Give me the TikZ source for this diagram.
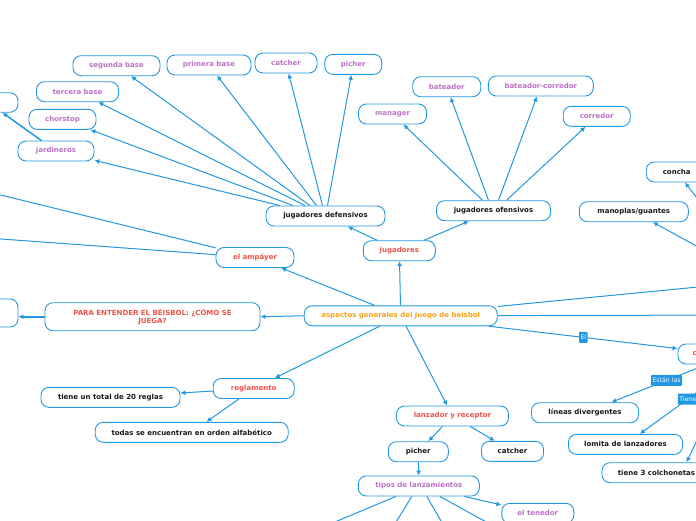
\documentclass[tikz,border=0pt]{standalone}
\usepackage{fontspec}
\setmainfont{DejaVu Sans}
\usetikzlibrary{positioning,arrows.meta}

\definecolor{mapblue}{RGB}{35,152,226}
\definecolor{mapred}{RGB}{238,82,72}
\definecolor{mappurple}{RGB}{190,112,200}
\definecolor{maporange}{RGB}{246,162,22}
\definecolor{mapblack}{RGB}{25,25,25}

\begin{document}
\begin{tikzpicture}[x=1pt, y=-1pt,
% node style
box/.style={draw=mapblue, line width=0.9pt, fill=white, rounded corners=8pt, minimum height=20pt, inner sep=2pt, font=\fontsize{7}{8.2}\selectfont\bfseries, text=mapblack},
rtxt/.style={box, text=mapred},
ptxt/.style={box, text=mappurple},
otxt/.style={box, text=maporange},
lbl/.style={fill=mapblue, text=white, rounded corners=1pt, inner sep=1.5pt, minimum height=11pt, font=\fontsize{6.2}{7}\selectfont},
arr/.style={draw=mapblue, line width=1pt, -{Latex[length=5pt,width=5pt]}}
]

\useasboundingbox (0,0) rectangle (696,520);
\fill[white] (0,0) rectangle (696,520);
\clip (0,0) rectangle (696,520);

% nodes
\node[otxt, minimum width=193pt] (root) at (400.7,315.8) {aspectos generales del juego de beisbol};
\node[rtxt, minimum width=72pt] (jug) at (399.3,250.7) {jugadores};
\node[box, minimum width=119pt] (defens) at (325.5,216) {jugadores defensivos};
\node[box, minimum width=114pt] (ofens) at (493.5,210.7) {jugadores ofensivos};

\node[ptxt, minimum width=87pt] (segunda) at (116.5,65.7) {segunda base};
\node[ptxt, minimum width=84pt] (primera) at (209,65) {primera base};
\node[ptxt, minimum width=62pt] (catcherd) at (286,63) {catcher};
\node[ptxt, minimum width=57pt] (picherd) at (353.3,64.3) {picher};
\node[ptxt, minimum width=82pt] (tercera) at (77.5,91.7) {tercera base};
\node[ptxt, minimum width=67pt] (chorstop) at (62.5,119.3) {chorstop};
\node[ptxt, minimum width=76pt] (jardin) at (56,151) {jardineros};
\node[box, minimum width=96pt, minimum height=19.5pt] (lboxa) at (-30,102.5) {};

\node[ptxt, minimum width=68pt] (manager) at (392.5,114) {manager};
\node[ptxt, minimum width=68pt] (bateador) at (446.7,86.7) {bateador};
\node[ptxt, minimum width=105pt] (batcorr) at (540.8,86) {bateador-corredor};
\node[ptxt, minimum width=67pt] (corredor) at (596.7,116.3) {corredor};

\node[box, minimum width=61pt] (concha) at (676.7,172) {concha};
\node[box, minimum width=109pt] (manoplas) at (633.8,211.7) {manoplas/guantes};

\node[rtxt, minimum width=78pt] (ampayer) at (255,257.5) {el ampáyer};
\node[rtxt, minimum width=215pt, minimum height=28pt, align=center] (entender) at (152.5,316.7) {PARA ENTENDER EL BÉISBOL: ¿CÓMO SE\\JUEGA?};
\node[box, minimum width=96pt, minimum height=28pt] (lboxb) at (-30,313) {};

\node[rtxt, minimum width=81pt] (reglam) at (253.7,388.5) {reglamento};
\node[box, minimum width=139pt] (veinte) at (110.5,397.3) {tiene un total de 20 reglas};
\node[box, minimum width=193pt] (alfab) at (191.7,432.3) {todas se encuentran en orden alfabético};

\node[rtxt, minimum width=112pt] (lanzrec) at (452.5,416) {lanzador y receptor};
\node[box, minimum width=60pt] (picher) at (418.3,451.7) {picher};
\node[box, minimum width=62pt] (catcher) at (512.5,451.3) {catcher};
\node[ptxt, minimum width=121pt] (tipos) at (418.8,486) {tipos de lanzamientos};
\node[ptxt, minimum width=72pt] (tenedor) at (537.8,513.3) {el tenedor};

\node[rtxt, minimum width=92pt] (campo) at (724,354) {campo de juego};
\node[box, minimum width=107pt] (lineas) at (585,412.7) {líneas divergentes};
\node[box, minimum width=114pt] (lomita) at (625.5,444.3) {lomita de lanzadores};
\node[box, minimum width=109pt] (colch) at (656.5,472.7) {tiene 3 colchonetas};

% ends that lie outside the picture
\coordinate (equipa) at (712,217);
\coordinate (equipb) at (720,259);
\coordinate (dera) at (760,281);
\coordinate (derb) at (760,315);
\coordinate (izqa) at (-40,185);
\coordinate (izqb) at (-40,236);
\coordinate (tipoa) at (292,540);
\coordinate (tipob) at (385,540);
\coordinate (tipoc) at (452,540);
\coordinate (tipod) at (519,540);

% draw lines between nodes
\draw[arr] (root) -- (jug);
\draw[arr] (jug) -- (defens);
\draw[arr] (jug) -- (ofens);
\draw[arr] (root) -- (ampayer);
\draw[arr] (root.west) -- (entender.east);
\draw[arr] (root) -- (reglam);
\draw[arr] (root) -- (lanzrec);
\draw[arr] (root) -- node[lbl] {El} (campo);
\draw[arr] (root) -- (dera);
\draw[arr] (root) -- (derb);

\draw[arr] ([xshift=-45.5pt]defens.north) -- (jardin);
\draw[arr] ([xshift=-32.5pt]defens.north) -- (chorstop);
\draw[arr] ([xshift=-20.5pt]defens.north) -- (tercera);
\draw[arr] ([xshift=-15.5pt]defens.north) -- (segunda);
\draw[arr] ([xshift=-9pt]defens.north) -- (primera);
\draw[arr] ([xshift=-3pt]defens.north) -- (catcherd);
\draw[arr] ([xshift=2pt]defens.north) -- (picherd);
\draw[arr, line width=1.5pt] (jardin) -- ([xshift=-16pt]lboxa.south east);

\draw[arr] ([xshift=-11pt]ofens.north) -- (manager);
\draw[arr] ([xshift=-5pt]ofens.north) -- (bateador);
\draw[arr] ([xshift=5pt]ofens.north) -- (batcorr);
\draw[arr] ([xshift=13pt]ofens.north) -- (corredor);

\draw[arr] (equipa) -- (concha);
\draw[arr] (equipb) -- (manoplas);

\draw[arr] (ampayer) -- (izqa);
\draw[arr] (ampayer) -- (izqb);
\draw[arr, line width=1.8pt] (entender.west) -- (entender.west -| lboxb.east);

\draw[arr] (reglam) -- (veinte);
\draw[arr] (reglam) -- (alfab);

\draw[arr] (lanzrec) -- (picher);
\draw[arr] (lanzrec) -- (catcher);
\draw[arr] (picher) -- (tipos);
\draw[arr] (tipos) -- (tenedor);
\draw[arr] ([xshift=-23pt]tipos.south) -- (tipoa);
\draw[arr] ([xshift=-7pt]tipos.south) -- (tipob);
\draw[arr] ([xshift=8pt]tipos.south) -- (tipoc);
\draw[arr] ([xshift=21pt]tipos.south) -- (tipod);

\draw[arr] ([xshift=29pt]campo.south west) -- node[lbl, pos=0.42] {Están las} (lineas);
\draw[arr] ([xshift=58pt]campo.south west) -- node[lbl, pos=0.5] {Tiene} (lomita);
\draw[arr] ([xshift=56pt]campo.south west) -- ([xshift=30pt]colch.north);

\end{tikzpicture}
\end{document}
